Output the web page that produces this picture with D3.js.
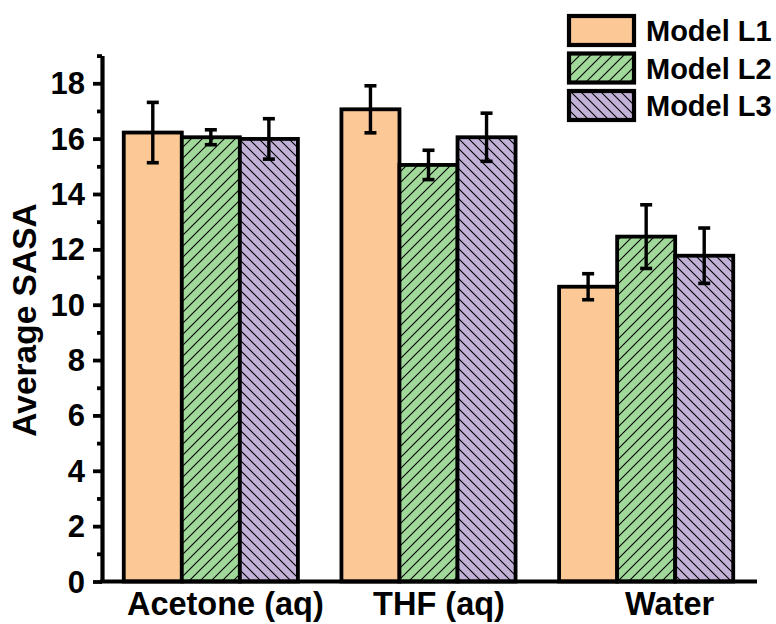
<!DOCTYPE html>
<html>
<head>
<meta charset="utf-8">
<script src="https://cdn.jsdelivr.net/npm/d3@7"></script>
<style>
  html, body { margin: 0; padding: 0; background: #fff; }
  svg text { font-family: 'Liberation Sans', Arial, sans-serif; font-weight: bold; fill: #000; }
</style>
</head>
<body>
<svg id="chart" width="776" height="624"></svg>
<script>
const categories = ['Acetone (aq)', 'THF (aq)', 'Water']
const seriesNames = ['Model L1', 'Model L2', 'Model L3']
const meanL1 = [16.22, 17.06, 10.65]
const meanL2 = [16.05, 15.05, 12.46]
const meanL3 = [15.99, 16.05, 11.77]
const errL1 = [1.09, 0.85, 0.47]
const errL2 = [0.27, 0.53, 1.15]
const errL3 = [0.73, 0.87, 1.0]
const yMajorTicks = [0, 2, 4, 6, 8, 10, 12, 14, 16, 18]
const yMinorTicks = [1, 3, 5, 7, 9, 11, 13, 15, 17, 19]

const means = [meanL1, meanL2, meanL3]
const errs = [errL1, errL2, errL3]
const fills = ['#FBC896', '#A1D99B', '#C2B2D8']
const labelShift = [14, 10, 23]

const svg = d3.select('#chart')

// hatch patterns
const defs = svg.append('defs')
function hatch (id, color, dir, size) {
  const p = defs.append('pattern')
    .attr('id', id)
    .attr('patternUnits', 'userSpaceOnUse')
    .attr('width', size).attr('height', size)
  p.append('rect').attr('width', size).attr('height', size).attr('fill', color)
  const s = size
  const d = dir > 0
    ? `M0,${s} L${s},0 M${-s / 2},${s / 2} L${s / 2},${-s / 2} M${s / 2},${s * 1.5} L${s * 1.5},${s / 2}`
    : `M0,0 L${s},${s} M${-s / 2},${s / 2} L${s / 2},${s * 1.5} M${s / 2},${-s / 2} L${s * 1.5},${s / 2}`
  p.append('path').attr('d', d).attr('stroke', '#000').attr('stroke-width', 1.1)
}
hatch('hatchL2', fills[1], 1, 11)
hatch('hatchL3', fills[2], -1, 10)
const fillUrl = [fills[0], 'url(#hatchL2)', 'url(#hatchL3)']

const y = d3.scaleLinear().domain([0, 19]).range([581.5, 55.6])
const x = d3.scaleLinear().domain([0.5, 3.5]).range([102, 755])
const bw = (x(1) - x(0)) * 0.8 / 3

// bars
const barData = []
categories.forEach((c, i) => {
  seriesNames.forEach((s, j) => {
    barData.push({ i, j, v: means[j][i], e: errs[j][i] })
  })
})

svg.append('g').selectAll('rect')
  .data(barData)
  .enter().append('rect')
  .attr('x', d => x(d.i + 1) + (d.j - 1.5) * bw)
  .attr('y', d => y(d.v))
  .attr('width', bw)
  .attr('height', d => y(0) - y(d.v))
  .attr('fill', d => fillUrl[d.j])
  .attr('stroke', '#000')
  .attr('stroke-width', 3.8)

// error bars
const eb = svg.append('g').attr('stroke', '#000')
eb.selectAll('line.v')
  .data(barData)
  .enter().append('line')
  .attr('x1', d => x(d.i + 1) + (d.j - 1) * bw)
  .attr('x2', d => x(d.i + 1) + (d.j - 1) * bw)
  .attr('y1', d => y(d.v + d.e))
  .attr('y2', d => y(d.v - d.e))
  .attr('stroke-width', 3.4)
;['top', 'bot'].forEach(k => {
  eb.selectAll('line.' + k)
    .data(barData)
    .enter().append('line')
    .attr('x1', d => x(d.i + 1) + (d.j - 1) * bw - 6)
    .attr('x2', d => x(d.i + 1) + (d.j - 1) * bw + 6)
    .attr('y1', d => y(k === 'top' ? d.v + d.e : d.v - d.e))
    .attr('y2', d => y(k === 'top' ? d.v + d.e : d.v - d.e))
    .attr('stroke-width', 3.6)
})

// Y axis (major + minor)
const yAxis = svg.append('g')
  .attr('transform', `translate(${x.range()[0]},0)`)
  .call(d3.axisLeft(y).tickValues(yMajorTicks).tickSize(9).tickSizeOuter(0).tickPadding(8))
yAxis.selectAll('text').style('font-size', '31px').attr('dy', '0.34em')
yAxis.selectAll('line').attr('stroke-width', 3.8)
yAxis.select('.domain').attr('stroke-width', 4.2)

const yMinor = svg.append('g')
  .attr('transform', `translate(${x.range()[0]},0)`)
  .call(d3.axisLeft(y).tickValues(yMinorTicks).tickSize(5).tickFormat(''))
yMinor.select('.domain').remove()
yMinor.selectAll('line').attr('stroke-width', 3.8)

// X axis
const xAxis = svg.append('g')
  .attr('transform', `translate(0,${y(0)})`)
  .call(d3.axisBottom(x).tickValues([1, 2, 3]).tickSize(0).tickSizeOuter(0)
    .tickFormat((d, i) => categories[i]))
xAxis.select('.domain').attr('stroke-width', 4.2).attr('d', `M${x.range()[0] - 2},0H${x.range()[1] + 2}`)
xAxis.selectAll('text')
  .style('font-size', '32.5px')
  .attr('y', 33)
  .attr('dy', 0)
  .attr('dx', (d, i) => labelShift[i])

// Y title
svg.append('text')
  .attr('transform', 'translate(36,320) rotate(-90)')
  .attr('text-anchor', 'middle')
  .style('font-size', '33.5px')
  .text('Average SASA')

// legend
const legend = svg.append('g').attr('transform', 'translate(569,0)')
seriesNames.forEach((s, j) => {
  const cy = 30.5 + j * 37.5
  legend.append('rect')
    .attr('x', 0).attr('y', cy - 14.5)
    .attr('width', 65).attr('height', 29)
    .attr('fill', fillUrl[j])
    .attr('stroke', '#000').attr('stroke-width', 4.2)
  legend.append('text')
    .attr('x', 77).attr('y', cy + 10.5)
    .style('font-size', '29px')
    .text(s)
})
</script>
</body>
</html>
